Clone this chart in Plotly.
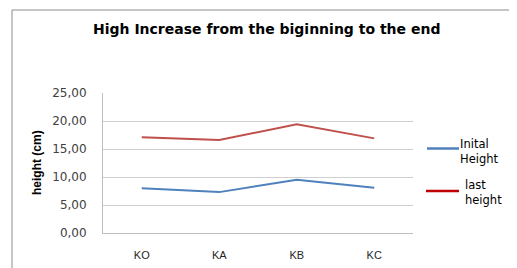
import plotly.graph_objects as go

categories = ["KO", "KA", "KB", "KC"]
initial_height = [8.0, 7.3, 9.5, 8.1]
last_height = [17.1, 16.6, 19.4, 16.9]
y_ticks = [0, 5, 10, 15, 20, 25]

OFF = 8  # browser default body margin
W, H = 517 - OFF, 268 - OFF
L, R, T, B = 103 - OFF, 413 - OFF, 93 - OFF, 233 - OFF  # plot area in figure pixels

def px(x):
    # x given in window pixels
    return (x - OFF - L) / (R - L)

def py(y):
    return (B - (y - OFF)) / (B - T)

fig = go.Figure()
fig.add_trace(go.Scatter(x=categories, y=initial_height, mode="lines",
                         line=dict(color="#4F81BD", width=2), name="Inital Height"))
fig.add_trace(go.Scatter(x=categories, y=last_height, mode="lines",
                         line=dict(color="#C0504D", width=2), name="last height"))

arial = "Liberation Sans, Arial, sans-serif"
wide = "DejaVu Sans, Verdana, sans-serif"
shapes = [
    dict(type="rect", xref="paper", yref="paper", x0=px(12), x1=px(560), y0=py(10), y1=py(300),
         line=dict(color="#8C8C8C", width=1), fillcolor="rgba(0,0,0,0)", layer="below"),
    dict(type="line", xref="paper", yref="paper", x0=px(427), x1=px(459), y0=py(148.5), y1=py(148.5),
         line=dict(color="#4F81BD", width=2.5)),
    dict(type="line", xref="paper", yref="paper", x0=px(426), x1=px(459), y0=py(191), y1=py(191),
         line=dict(color="#C00000", width=2.5)),
]

def label(text, x, y, size=12, family=wide, xanchor="left", color="#000000"):
    return dict(text=text, xref="paper", yref="paper", x=px(x), y=py(y), showarrow=False,
                font=dict(family=family, size=size, color=color), align="left",
                xanchor=xanchor, yanchor="middle")

annotations = [
    label("<b>High Increase from the biginning to the end</b>", 266, 28.5, size=14, xanchor="center"),
    dict(text="<b>height (cm)</b>", xref="paper", yref="paper", x=px(37), y=py(163),
         showarrow=False, textangle=-90, font=dict(family=arial, size=12, color="#000000"),
         xanchor="center", yanchor="middle"),
    label("Inital<br>Height", 458, 151, size=11.5),
    label("last<br>height", 463, 192, size=11.5),
    dict(text="m.", xref="paper", yref="paper", x=px(8), y=py(11),
         showarrow=False, font=dict(family="Liberation Serif, Times New Roman, serif", size=20, color="#000000"),
         xanchor="left", yanchor="bottom"),
]

fig.update_layout(
    width=W, height=H,
    margin=dict(l=L, r=W - R, t=T, b=H - B, pad=0),
    paper_bgcolor="white", plot_bgcolor="white",
    showlegend=False,
    separators=",.",
    shapes=shapes, annotations=annotations,
    font=dict(family=wide, size=11, color="#404040"),
)
fig.update_xaxes(type="category", range=[-0.5, 3.5], showgrid=False, automargin=False,
                 showline=True, linecolor="#BFBFBF", linewidth=1,
                 ticks="", tickfont=dict(family=arial, size=11, color="#262626"), ticklabelstandoff=12)
fig.update_yaxes(range=[0, 25], tickvals=y_ticks, tickformat=".2f", automargin=False,
                 showgrid=True, gridcolor="#D0D0D0", gridwidth=1,
                 showline=True, linecolor="#BFBFBF", linewidth=1, zeroline=False,
                 ticks="", tickfont=dict(family=wide, size=12, color="#404040"), ticklabelstandoff=13)

fig.write_html("out.html")
